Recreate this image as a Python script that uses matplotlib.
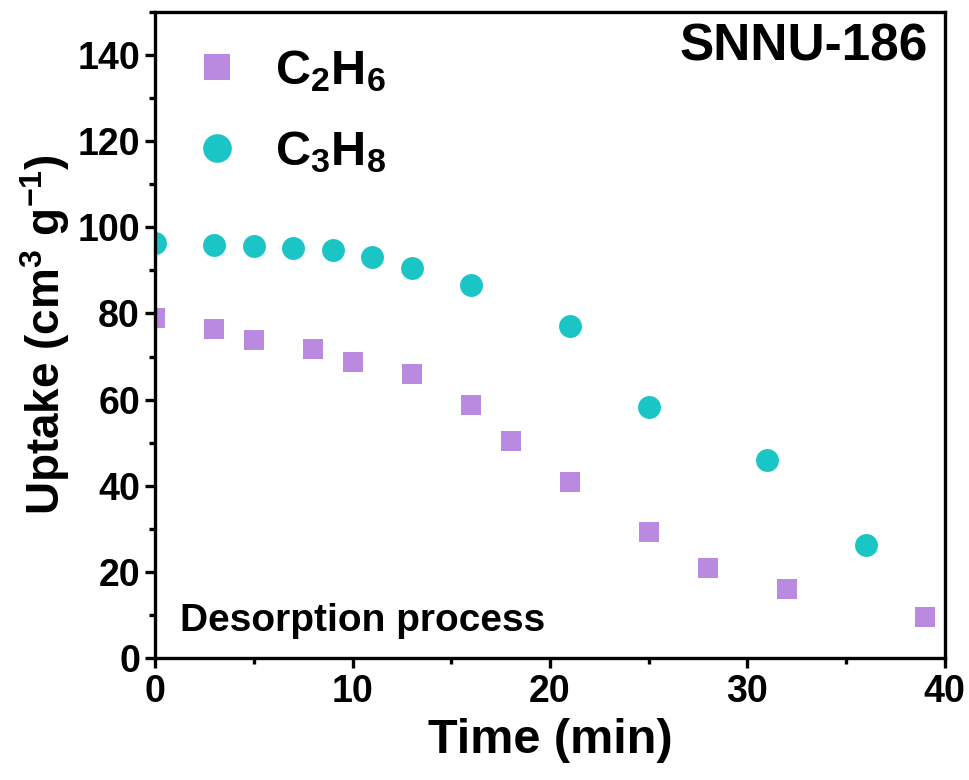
import matplotlib
matplotlib.use("Agg")
import matplotlib.pyplot as plt
from matplotlib import font_manager
from matplotlib.ticker import MultipleLocator

names = {f.name for f in font_manager.fontManager.ttflist}
fam = "Liberation Sans Narrow" if "Liberation Sans Narrow" in names else "Liberation Sans"
plt.rcParams['font.family'] = [fam, 'DejaVu Sans']
plt.rcParams['mathtext.fontset'] = 'custom'
plt.rcParams['mathtext.rm'] = fam + ':bold'
plt.rcParams['mathtext.bf'] = fam + ':bold'
plt.rcParams['mathtext.default'] = 'bf'
plt.rcParams['font.weight'] = 'bold'

c2h6_time = [0, 3, 5, 8, 10, 13, 16, 18, 21, 25, 28, 32, 39]
c2h6_uptake = [78.9, 76.3, 73.8, 71.7, 68.7, 65.9, 58.7, 50.3, 40.8, 29.2, 20.9, 16.0, 9.5]
c3h8_time = [0, 3, 5, 7, 9, 11, 13, 16, 21, 25, 31, 36]
c3h8_uptake = [96.3, 95.8, 95.6, 95.1, 94.7, 93.0, 90.5, 86.5, 77.0, 58.2, 46.0, 26.2]

fig = plt.figure(figsize=(9.7, 7.8), dpi=100)
ax = fig.add_axes([0.16, 0.156, 0.814, 0.829])

ax.plot(c2h6_time, c2h6_uptake, 's', color='#B98AE0', markersize=14.5, markeredgewidth=0, label=r'C$_2$H$_6$')
ax.plot(c3h8_time, c3h8_uptake, 'o', color='#1BC5C5', markersize=16.5, markeredgewidth=0, label=r'C$_3$H$_8$')

ax.set_xlim(0, 40)
ax.set_ylim(0, 150)
ax.xaxis.set_major_locator(MultipleLocator(10))
ax.xaxis.set_minor_locator(MultipleLocator(5))
ax.yaxis.set_minor_locator(MultipleLocator(10))
ax.set_yticks([0, 20, 40, 60, 80, 100, 120, 140])

for s in ax.spines.values():
    s.set_linewidth(2.4)
ax.tick_params(which='major', direction='out', length=7, width=2.4, labelsize=27, pad=4)
ax.tick_params(which='minor', direction='out', length=4, width=2.4)
for lab in ax.get_xticklabels() + ax.get_yticklabels():
    lab.set_fontweight('bold')

ax.set_xlabel('Time (min)', fontsize=35, fontweight='bold', labelpad=6)
ax.set_ylabel(r'Uptake (cm$^3$ g$^{-1}$)', fontsize=33, fontweight='bold', labelpad=4)

ax.text(0.978, 0.945, 'SNNU-186', transform=ax.transAxes, ha='right', va='center',
        fontsize=37, fontweight='bold')
ax.text(0.032, 0.058, 'Desorption process', transform=ax.transAxes, ha='left', va='center',
        fontsize=28, fontweight='bold')

leg = ax.legend(loc='upper left', bbox_to_anchor=(-0.002, 0.992), frameon=False,
                prop={'family': [fam], 'weight': 'bold', 'size': 35},
                handletextpad=0.55, labelspacing=0.72, borderaxespad=0.25,
                handlelength=1.3, markerscale=1.25)

fig.savefig('out.png', dpi=100)
